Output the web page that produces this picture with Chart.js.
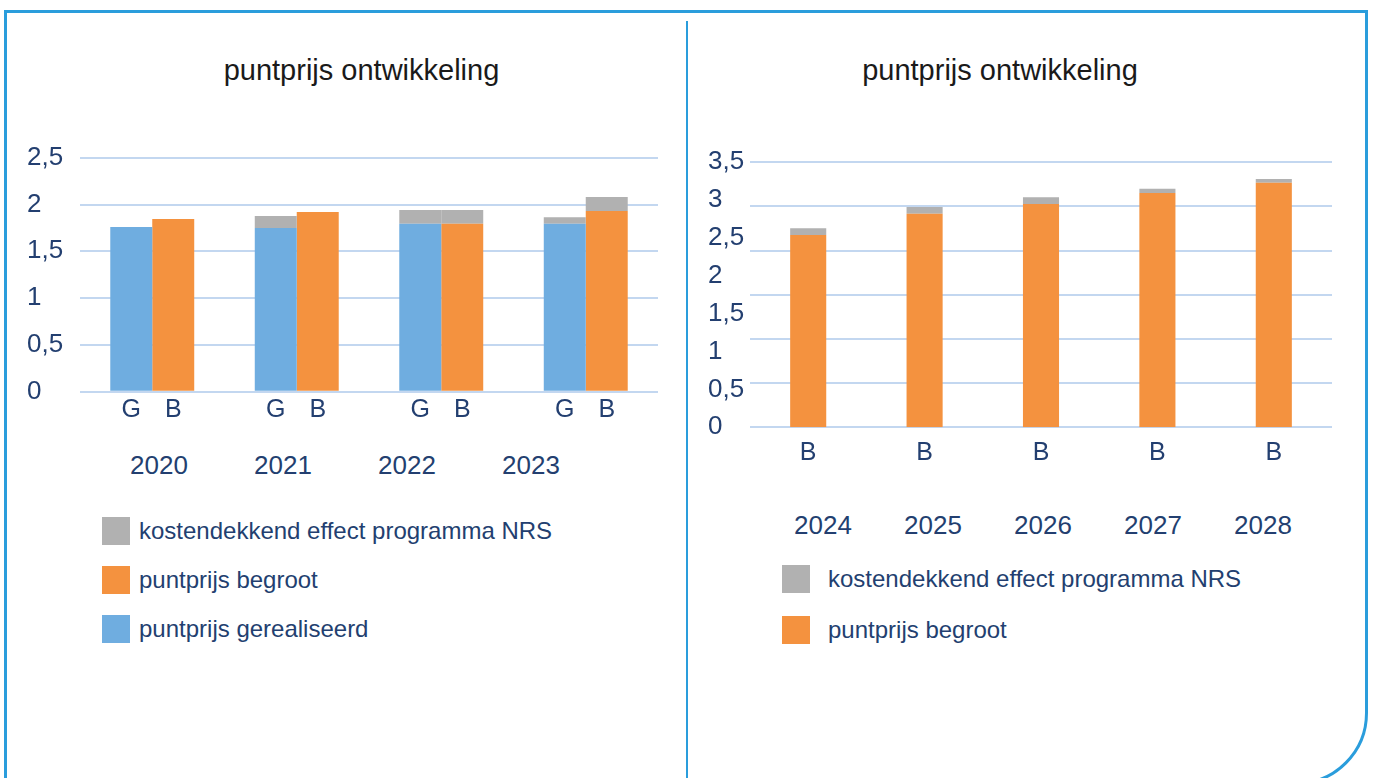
<!DOCTYPE html>
<html>
<head>
<meta charset="utf-8">
<script src="https://cdn.jsdelivr.net/npm/chart.js@4.4.1/dist/chart.umd.min.js"></script>
<style>
html,body{margin:0;padding:0;background:#fff;}
body{width:1373px;height:778px;position:relative;overflow:hidden;font-family:"Liberation Sans",Arial,sans-serif;color:#233f70;}
.frame{position:absolute;left:4px;top:10px;width:1364px;height:775px;box-sizing:border-box;border:3px solid #2a9ddc;border-bottom-right-radius:72px;}
.divider{position:absolute;left:686px;top:21px;width:2px;height:760px;background:#2a9ddc;}
.title{position:absolute;top:52px;font-size:29px;line-height:36px;color:#1a1a1a;white-space:nowrap;transform:translateX(-50%);}
.years{position:absolute;display:flex;font-size:26px;line-height:30px;}
.years span{flex:1;text-align:center;}
.legend{position:absolute;font-size:24px;}
.legend .row{display:flex;align-items:center;position:absolute;left:0;white-space:nowrap;height:28px;}
.legend .sw{width:28px;height:28px;flex:none;}
canvas{position:absolute;}
</style>
</head>
<body>
<div class="frame"></div>
<div class="divider"></div>
<div class="title" style="left:361.5px">puntprijs ontwikkeling</div>
<div class="title" style="left:1000px">puntprijs ontwikkeling</div>
<canvas id="left" width="650" height="340" style="left:27px;top:100px;width:650px;height:340px"></canvas>
<canvas id="right" width="640" height="380" style="left:708px;top:100px;width:640px;height:380px"></canvas>
<div id="leftYears" class="years" style="left:97px;top:450px;width:496px"></div>
<div id="rightYears" class="years" style="left:768px;top:510px;width:550px"></div>
<div id="leftLegend" class="legend" style="left:102px;top:517px"></div>
<div id="rightLegend" class="legend" style="left:782px;top:565px"></div>
<script>
// ---- data ----
const leftYears = ['2020', '2021', '2022', '2023'];
const leftTickLabels = ['0', '0,5', '1', '1,5', '2', '2,5'];
const gerealiseerd = [1.76, 1.75, 1.795, 1.795];
const kostendekkendG = [0, 0.127, 0.145, 0.07];
const begrootLeft = [1.845, 1.92, 1.795, 1.93];
const kostendekkendB = [0, 0, 0.145, 0.15];

const rightYears = ['2024', '2025', '2026', '2027', '2028'];
const rightTickLabels = ['0', '0,5', '1', '1,5', '2', '2,5', '3', '3,5'];
const begrootRight = [2.54, 2.82, 2.95, 3.095, 3.23];
const kostendekkendRight = [0.09, 0.09, 0.09, 0.055, 0.05];

const nameKosten = 'kostendekkend effect programma NRS';
const nameBegroot = 'puntprijs begroot';
const nameGereal = 'puntprijs gerealiseerd';

// ---- styles ----
const C = { blue: '#6fade0', orange: '#f4923f', gray: '#b1b1b1', grid: '#c3d7f0', text: '#233f70' };
const FONT = '"Liberation Sans", Arial, sans-serif';

const barTags = {
  id: 'barTags',
  afterDatasetsDraw(chart, args, opts) {
    const ctx = chart.ctx;
    ctx.save();
    ctx.font = opts.size + 'px ' + FONT;
    ctx.fillStyle = C.text;
    ctx.textAlign = 'center';
    ctx.textBaseline = 'middle';
    chart.data.datasets.forEach((ds, i) => {
      if (!ds.tag) return;
      chart.getDatasetMeta(i).data.forEach(bar => {
        ctx.fillText(ds.tag, bar.x, chart.chartArea.bottom + opts.offset);
      });
    });
    ctx.restore();
  }
};

function yTicks(labels) {
  return {
    color: C.text, font: { family: FONT, size: 26 }, crossAlign: 'far', padding: 0,
    stepSize: 0.5, callback: (v, i) => labels[i]
  };
}

// ---- left chart ----
new Chart(document.getElementById('left'), {
  type: 'bar',
  data: {
    labels: leftYears,
    datasets: [
      { label: nameGereal, data: gerealiseerd, backgroundColor: C.blue, stack: 'G', tag: 'G' },
      { label: nameKosten, data: kostendekkendG, backgroundColor: C.gray, stack: 'G' },
      { label: nameBegroot, data: begrootLeft, backgroundColor: C.orange, stack: 'B', tag: 'B' },
      { label: nameKosten, data: kostendekkendB, backgroundColor: C.gray, stack: 'B' }
    ]
  },
  options: {
    responsive: false, animation: false, events: [],
    layout: { padding: { top: 57.7, right: 19, bottom: 48.3, left: 0 } },
    datasets: { bar: { borderWidth: 0, categoryPercentage: 0.581, barPercentage: 1.0 } },
    scales: {
      x: { display: false, stacked: true },
      y: {
        stacked: true, min: 0, max: 2.5,
        ticks: yTicks(leftTickLabels),
        grid: { color: C.grid, lineWidth: 2, drawTicks: false },
        border: { display: false },
        afterFit: s => { s.width = 53; }
      }
    },
    plugins: { legend: { display: false }, tooltip: { enabled: false }, barTags: { size: 25, offset: 18 } }
  },
  plugins: [barTags]
});

// ---- right chart ----
new Chart(document.getElementById('right'), {
  type: 'bar',
  data: {
    labels: rightYears,
    datasets: [
      { label: nameBegroot, data: begrootRight, backgroundColor: C.orange, tag: 'B' },
      { label: nameKosten, data: kostendekkendRight, backgroundColor: C.gray }
    ]
  },
  options: {
    responsive: false, animation: false, events: [],
    layout: { padding: { top: 62.3, right: 16, bottom: 52.7, left: 0 } },
    datasets: { bar: { borderWidth: 0, categoryPercentage: 1.0, barPercentage: 0.31 } },
    scales: {
      x: { display: false, stacked: true },
      y: {
        stacked: true, min: 0, max: 3.5,
        ticks: yTicks(rightTickLabels),
        grid: { display: false },
        border: { display: false },
        afterFit: s => { s.width = 42; }
      },
      yGrid: {
        position: 'right', min: 0, max: 3,
        ticks: { display: false, stepSize: 0.5 },
        grid: { color: C.grid, lineWidth: 2, drawTicks: false },
        border: { display: false },
        afterFit: s => { s.width = 0; }
      }
    },
    plugins: { legend: { display: false }, tooltip: { enabled: false }, barTags: { size: 25, offset: 26 } }
  },
  plugins: [barTags]
});

// ---- year rows & legends (HTML text) ----
function fillYears(id, years) {
  const el = document.getElementById(id);
  years.forEach(y => { const s = document.createElement('span'); s.textContent = y; el.appendChild(s); });
}
fillYears('leftYears', leftYears);
fillYears('rightYears', rightYears);

function fillLegend(id, items, pitch, gap) {
  const el = document.getElementById(id);
  items.forEach((it, i) => {
    const r = document.createElement('div');
    r.className = 'row';
    r.style.top = (i * pitch) + 'px';
    const sw = document.createElement('div');
    sw.className = 'sw';
    sw.style.background = it.color;
    const t = document.createElement('span');
    t.textContent = it.label;
    t.style.marginLeft = gap + 'px';
    r.appendChild(sw); r.appendChild(t);
    el.appendChild(r);
  });
}
fillLegend('leftLegend', [
  { label: nameKosten, color: C.gray },
  { label: nameBegroot, color: C.orange },
  { label: nameGereal, color: C.blue }
], 49, 9);
fillLegend('rightLegend', [
  { label: nameKosten, color: C.gray },
  { label: nameBegroot, color: C.orange }
], 51, 18);
</script>
</body>
</html>
